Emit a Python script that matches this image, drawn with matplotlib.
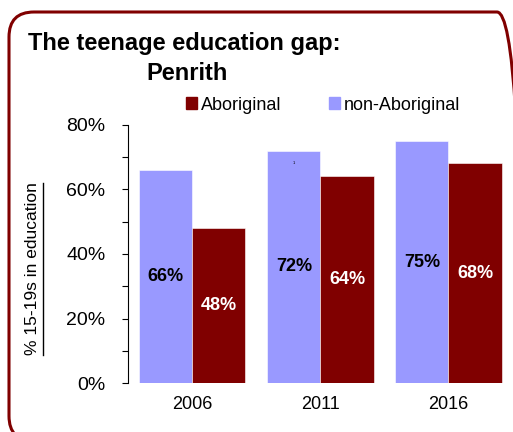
import numpy as np
import matplotlib
matplotlib.use('Agg')
import matplotlib.pyplot as plt
from matplotlib.patches import FancyBboxPatch, Patch
from matplotlib.lines import Line2D

plt.rcParams['font.family'] = ['Liberation Sans', 'DejaVu Sans']

# data
years = ['2006', '2011', '2016']
non_aboriginal = [0.66, 0.72, 0.75]
aboriginal = [0.48, 0.64, 0.68]
non_abo_labels = ['66%', '72%', '75%']
abo_labels = ['48%', '64%', '68%']
yticks = [0.0, 0.2, 0.4, 0.6, 0.8]
ytick_labels = ['0%', '20%', '40%', '60%', '80%']

c_abo = '#800000'
c_non = '#9999FF'

W, H = 513, 432
fig = plt.figure(figsize=(W / 100, H / 100), dpi=100)
ax = fig.add_axes([128.3 / W, 1 - 383.3 / H, (512.5 - 128.3) / W, (383.3 - 124.7) / H])

x = np.arange(len(years))
bw = 0.415
ax.bar(x - bw / 2, non_aboriginal, bw, color=c_non, edgecolor='white', linewidth=0.4)
ax.bar(x + bw / 2, aboriginal, bw, color=c_abo, edgecolor='white', linewidth=0.4)

for i in range(len(years)):
    ax.text(x[i] - bw / 2, non_aboriginal[i] / 2, non_abo_labels[i], ha='center', va='center',
            fontsize=13, fontweight='bold', color='black')
    ax.text(x[i] + bw / 2, aboriginal[i] / 2, abo_labels[i], ha='center', va='center',
            fontsize=13, fontweight='bold', color='white')

# stray little marker text in the 2011 bar
ax.text(x[1] - bw / 2, 0.683, '1', ha='center', va='center', fontsize=3, color='black')

ax.set_xlim(-0.5, 2.5)
ax.set_ylim(0, 0.8)
ax.set_xticks(x)
ax.set_xticklabels(years, fontsize=13)
ax.tick_params(axis='x', length=0, pad=9)
ax.set_yticks(yticks)
ax.set_yticklabels(ytick_labels, fontsize=14)
ax.set_yticks(np.arange(0, 0.81, 0.1), minor=True)
ax.tick_params(axis='y', which='both', length=4.5, width=0.8, direction='out', pad=12)
for s in ['top', 'right', 'bottom']:
    ax.spines[s].set_visible(False)
ax.spines['left'].set_linewidth(0.8)

# y label, underlined
fig.text(33 / W, 1 - 269 / H, '% 15-19s in education', rotation=90, ha='center', va='center',
         fontsize=12.5)
fig.add_artist(Line2D([42.7 / W, 42.7 / W], [1 - 183 / H, 1 - 355 / H], color='black', lw=1.0))

# titles
fig.text(28 / W, 1 - 50 / H, 'The teenage education gap:', ha='left', va='baseline',
         fontsize=17, fontweight='bold')
fig.text(186.7 / W, 1 - 80 / H, 'Penrith', ha='center', va='baseline',
         fontsize=17, fontweight='bold')

# legend
handles = [Patch(color=c_abo, label='Aboriginal'), Patch(color=c_non, label='non-Aboriginal')]
fig.legend(handles=handles, loc='center left', bbox_to_anchor=(186 / W, 1 - 105 / H), ncol=2,
           frameon=False, fontsize=13, handlelength=0.6, handleheight=0.6, handletextpad=0.25,
           columnspacing=2.6, borderpad=0, borderaxespad=0)

# rounded border
box = FancyBboxPatch((0.09, -0.09), 5.13, 4.29, boxstyle='round,pad=0,rounding_size=0.25',
                     transform=fig.dpi_scale_trans, facecolor='none', edgecolor=c_abo,
                     linewidth=2.2, clip_on=False)
fig.add_artist(box)

fig.savefig('out.png', dpi=100)
